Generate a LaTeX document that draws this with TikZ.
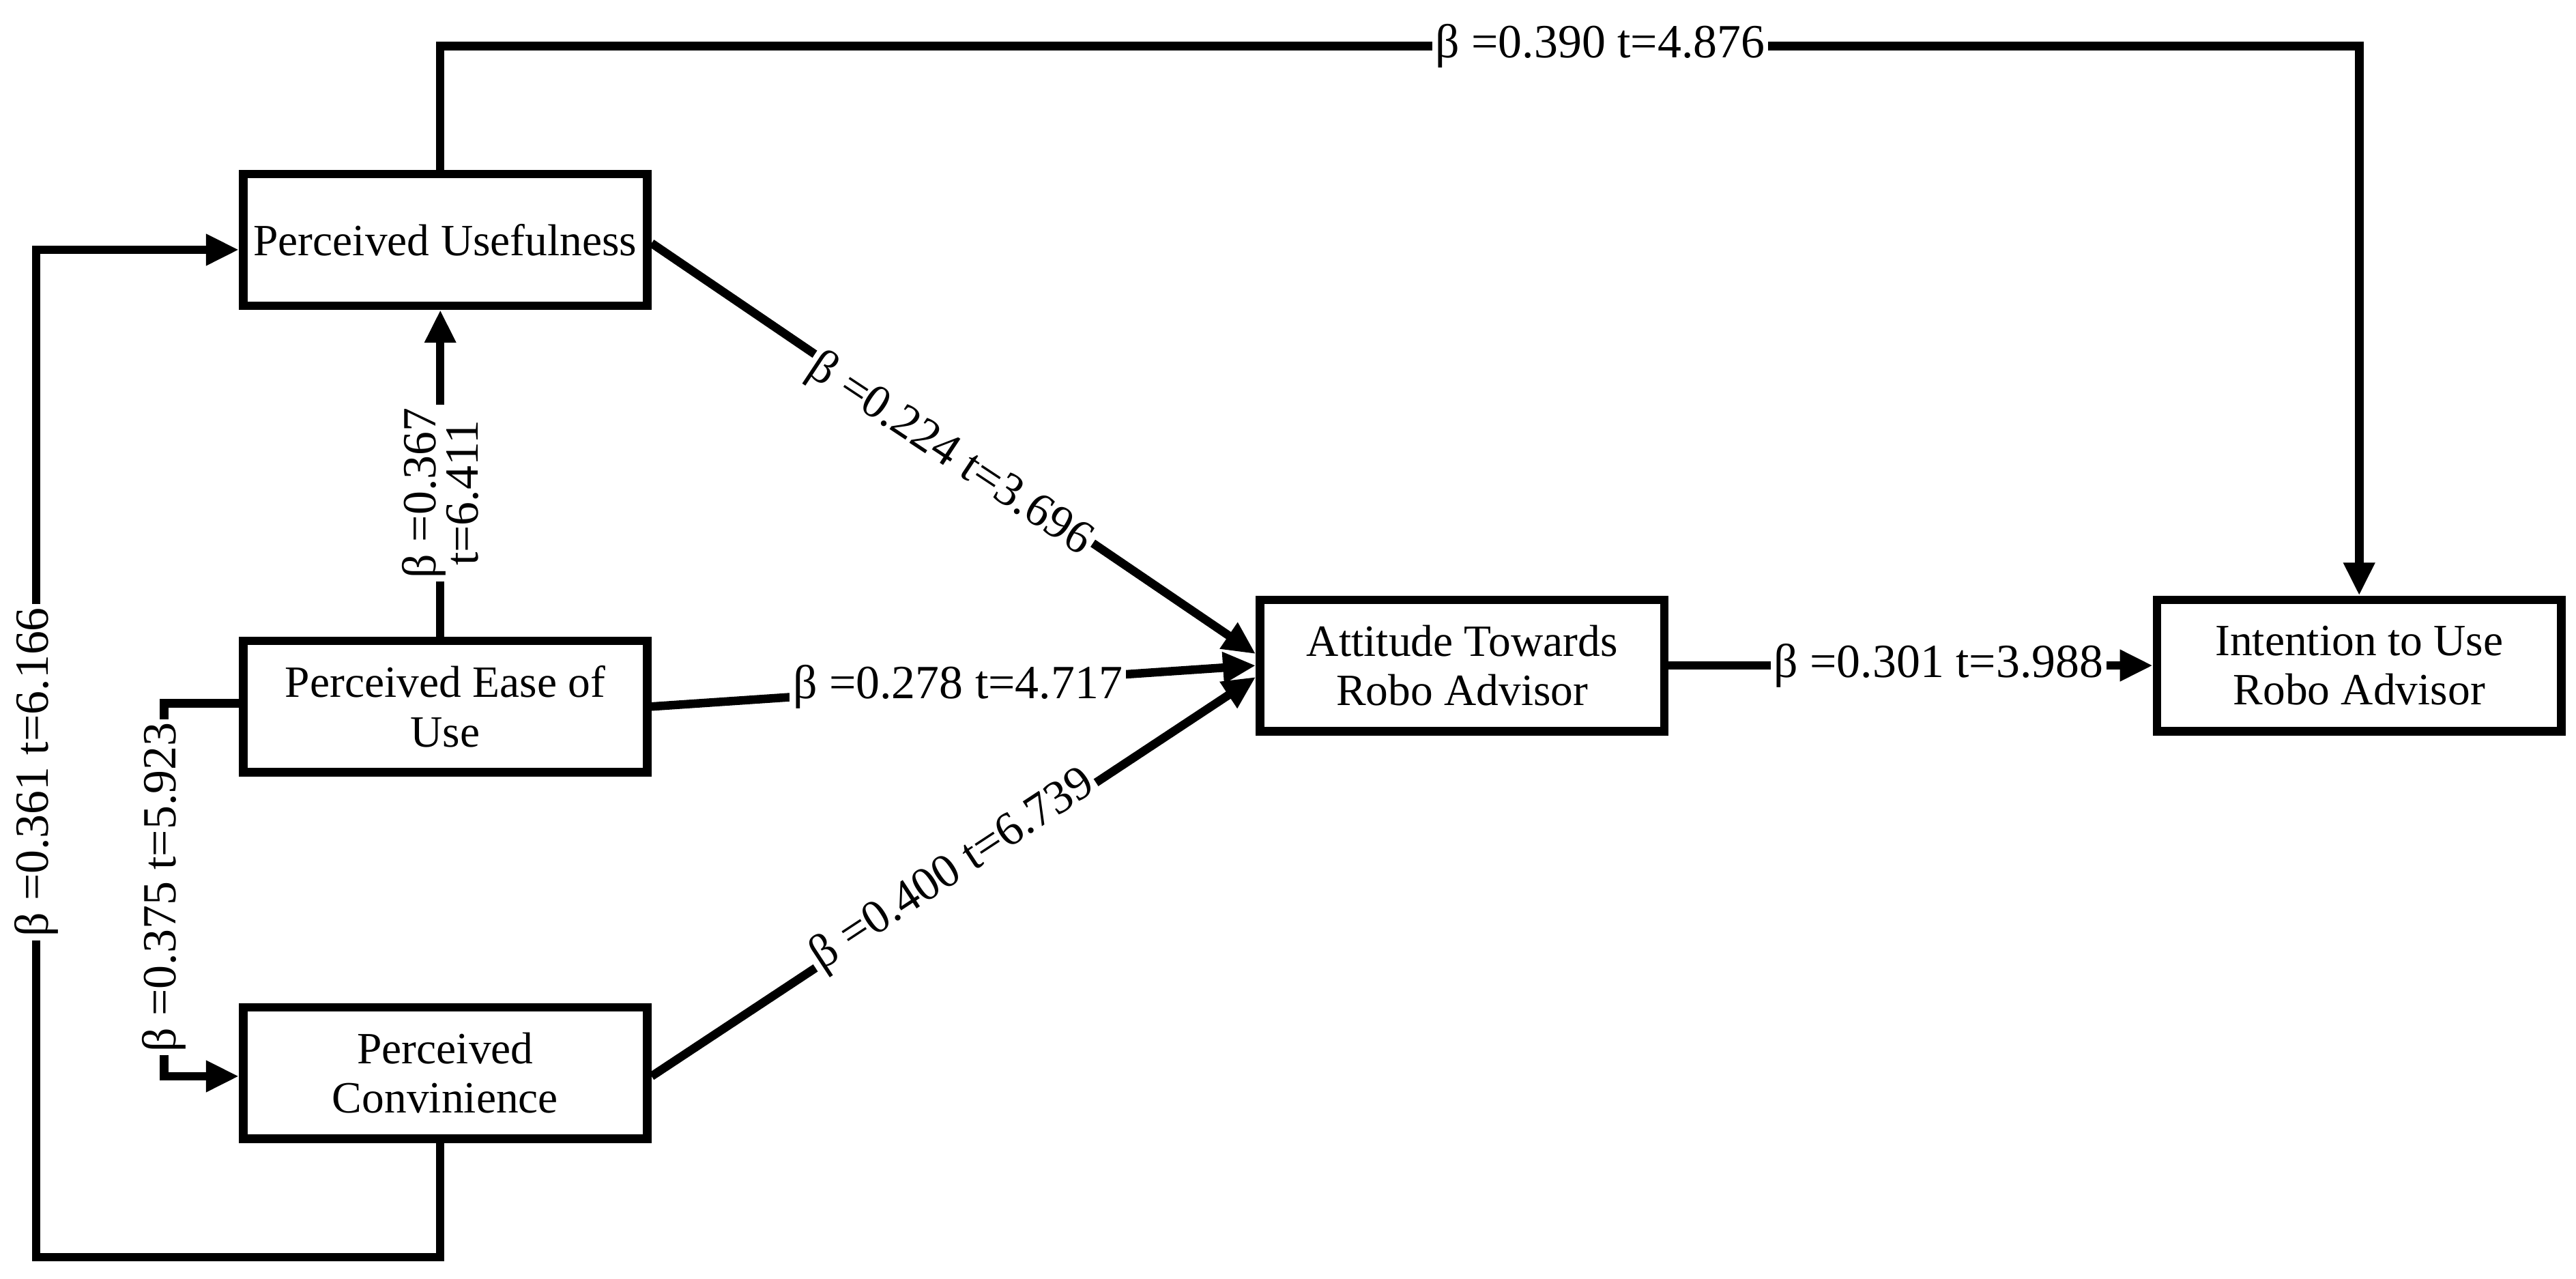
\documentclass[tikz,border=0pt]{standalone}
\usepackage{fontspec}
\setmainfont{Liberation Serif}
\usetikzlibrary{arrows.meta}
\begin{document}
\begin{tikzpicture}[x=0.5pt,y=-0.5pt,
  box/.style={draw,line width=2.6pt,minimum width=123pt,minimum height=40pt,align=center,font=\fontsize{13.6}{15}\selectfont,inner sep=2pt},
  con/.style={line width=2.6pt},
  arr/.style={con,-{Triangle[length=10pt,width=9pt]}},
  lab/.style={fill=white,inner sep=1pt,font=\fontsize{14.5}{14}\selectfont}]
\useasboundingbox (0,0) rectangle (1568,778);
\node[box] (pu) at (271,146) {Perceived Usefulness};
\node[box] (pe) at (271,430) {Perceived Ease of\\Use};
\node[box] (pc) at (271,653) {Perceived\\Convinience};
\node[box] (at) at (890,405) {Attitude Towards\\Robo Advisor};
\node[box] (in) at (1436,405) {Intention to Use\\Robo Advisor};
\coordinate (a1) at (268,28); \coordinate (a2) at (1436,28);
\draw[arr] (pu.north -| a1) -- (a1) -- (a2) -- (in.north);
\node[lab] at (974,28) {β =0.390 t=4.876};
\draw[arr] (pe.north -| a1) -- (pu.south -| a1);
\node[lab,rotate=90,align=center,font=\fontsize{14.5}{13}\selectfont] at (268,300) {β =0.367\\t=6.411};
\coordinate (b1) at (100,428); \coordinate (b2) at (100,655);
\draw[arr] (pe.west |- b1) -- (b1) -- (b2) -- (pc.west |- b2);
\node[lab,rotate=90] at (100,540) {β =0.375 t=5.923};
\coordinate (c1) at (268,765); \coordinate (c2) at (22,765); \coordinate (c3) at (22,152);
\draw[arr] (pc.south -| c1) -- (c1) -- (c2) -- (c3) -- (pu.west |- c3);
\node[lab,rotate=90] at (22,470) {β =0.361 t=6.166};
\draw[arr] (pu.east |- 0,148) -- (at.west |- 0,398);
\node[lab,rotate=-33.5] at (578,277) {β =0.224 t=3.696};
\draw[arr] (pe.east |- 0,430) -- (at.west |- 0,405);
\node[lab] at (583,418) {β =0.278 t=4.717};
\draw[arr] (pc.east |- 0,655) -- (at.west |- 0,412);
\node[lab,rotate=33.3] at (580,530) {β =0.400 t=6.739};
\draw[arr] (at.east) -- (in.west);
\node[lab] at (1180,405) {β =0.301 t=3.988};
\end{tikzpicture}
\end{document}
